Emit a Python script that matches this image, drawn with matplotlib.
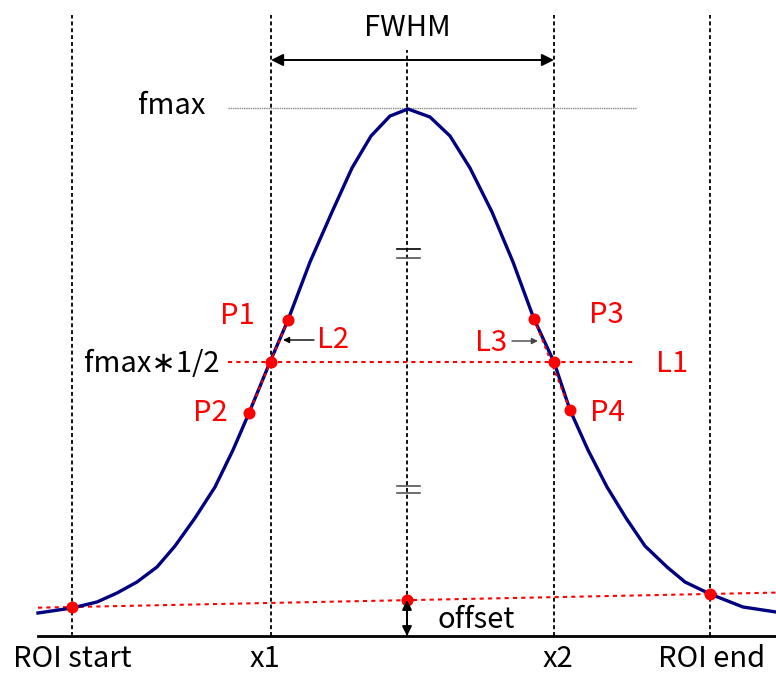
import matplotlib
matplotlib.use("Agg")
import matplotlib.pyplot as plt

plt.rcParams['font.family'] = ['Noto Sans CJK JP', 'DejaVu Sans']

# peak profile (x = channel, y = counts above the axis)
curve_x = [38, 72, 97, 117, 137, 157, 175, 195, 215, 233, 249, 270, 288, 310, 332, 352, 371, 390,
           408, 430, 450, 470, 492, 513, 534, 554, 570, 588, 607, 626, 645, 667, 685, 710, 743, 776]
curve_y = [23, 28, 34, 43, 54, 69, 90, 118, 149, 186, 223, 274, 316, 374, 424, 468, 500, 520,
           527, 519, 500, 468, 424, 374, 317, 274, 226, 186, 149, 118, 90, 69, 54, 42, 29, 24]

roi_start, roi_end = 72, 710
x1, x2 = 271, 554
peak_x = 407
fmax = 528
half_level = 274
offset_x = [38, 776]
offset_y = [28.3, 43.4]
base_pts_x = [72, 407, 710]
base_pts_y = [29, 36, 42]
p_x = [288, 249, 534, 570]      # P1, P2, P3, P4
p_y = [316, 223, 317, 226]
half_x = [271, 554]

fig = plt.figure(figsize=(7.76, 6.75), dpi=100)
ax = fig.add_axes([0, 0, 1, 1])
ax.set_xlim(0, 776)
ax.set_ylim(-39, 636)
ax.axis('off')

dash = (0, (2.2, 1.6))
for xv in [roi_start, x1, x2, roi_end]:
    ax.plot([xv, xv], [0, 621], color='black', lw=1.3, ls=dash, zorder=1)
ax.plot([peak_x, peak_x], [0, 586], color='black', lw=1.3, ls=dash, zorder=1)

# axis break marks on the centre line
for yb, col in [(387, 'black'), (378, '#555555'), (150, '#555555'), (143, '#555555')]:
    ax.plot([397, 420], [yb, yb], color=col, lw=1.2, zorder=2)

# baseline
ax.plot([38, 776], [0, 0], color='black', lw=2, zorder=2)

# fmax and half level
ax.plot([228, 636], [fmax, fmax], color='#888888', lw=1, ls=(0, (1, 0.6)), zorder=1)
ax.plot([228, 636], [half_level, half_level], color='red', lw=1.5, ls=(0, (2, 2)), zorder=3)
ax.plot(offset_x, offset_y, color='red', lw=1.5, ls=(0, (2, 2)), zorder=3)

ax.plot(curve_x, curve_y, color='#000080', lw=2.4, zorder=4, solid_joinstyle='miter')

# L2 / L3 interpolation lines
ax.plot([p_x[0], p_x[1]], [p_y[0], p_y[1]], color='red', lw=1.3, ls=(0, (2, 2)), zorder=5)
ax.plot([p_x[2], p_x[3]], [p_y[2], p_y[3]], color='red', lw=1.3, ls=(0, (2, 2)), zorder=5)

ax.scatter(p_x + half_x + base_pts_x, p_y + [half_level] * 2 + base_pts_y,
           s=75, color='red', zorder=6, linewidths=0)

# arrows
ax.annotate('', xy=(x1, 576), xytext=(x2, 576),
            arrowprops=dict(arrowstyle='<|-|>', color='black', lw=1.4, mutation_scale=18,
                            shrinkA=0, shrinkB=0), zorder=3)
ax.annotate('', xy=(peak_x, 36), xytext=(peak_x, 0),
            arrowprops=dict(arrowstyle='<|-|>', color='black', lw=1.4, mutation_scale=14,
                            shrinkA=0, shrinkB=0), zorder=7)
ax.annotate('', xy=(283, 296), xytext=(314, 296),
            arrowprops=dict(arrowstyle='-|>', color='black', lw=1, mutation_scale=9,
                            shrinkA=0, shrinkB=0))
ax.annotate('', xy=(538, 295), xytext=(512, 295),
            arrowprops=dict(arrowstyle='-|>', color='#444444', lw=1, mutation_scale=9,
                            shrinkA=0, shrinkB=0))

fs = 21
ax.text(peak_x, 608, 'FWHM', fontsize=fs, ha='center', va='center')
ax.text(172, 530, 'fmax', fontsize=fs, ha='center', va='center')
ax.text(152, 272, 'fmax∗1/2', fontsize=fs, ha='center', va='center')
ax.text(476, 16, 'offset', fontsize=fs, ha='center', va='center')
ax.text(72, -23, 'ROI start', fontsize=fs, ha='center', va='center')
ax.text(265, -23, 'x1', fontsize=fs, ha='center', va='center')
ax.text(558, -23, 'x2', fontsize=fs, ha='center', va='center')
ax.text(712, -23, 'ROI end', fontsize=fs, ha='center', va='center')

for s, xx, yy in [('P1', 237, 320), ('L2', 333, 296), ('P2', 210, 223), ('L3', 491, 293),
                  ('P3', 606, 321), ('L1', 672, 272), ('P4', 607, 223)]:
    ax.text(xx, yy, s, fontsize=fs, color='red', ha='center', va='center')

fig.savefig('out.png', dpi=100)
